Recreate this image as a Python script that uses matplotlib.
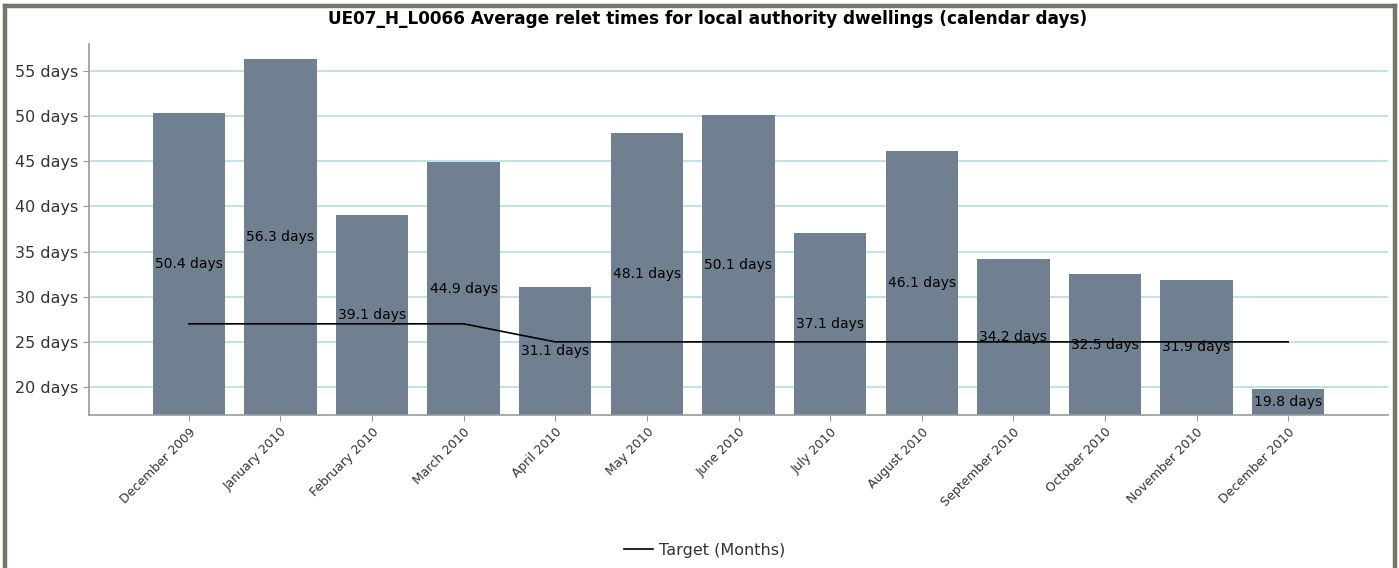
import matplotlib

matplotlib.use("Agg")
import matplotlib.pyplot as plt
from matplotlib.lines import Line2D

MONTHS = ["December 2009", "January 2010", "February 2010", "March 2010",
          "April 2010", "May 2010", "June 2010", "July 2010", "August 2010",
          "September 2010", "October 2010", "November 2010", "December 2010"]
RELET_DAYS = [50.4, 56.3, 39.1, 44.9, 31.1, 48.1, 50.1, 37.1, 46.1, 34.2,
              32.5, 31.9, 19.8]
TARGET_DAYS = [27, 27, 27, 27, 25, 25, 25, 25, 25, 25, 25, 25, 25]
Y_TICKS = [20, 25, 30, 35, 40, 45, 50, 55]

BAR = "#708090"
GRID = "#b7e1e8"
FRAME = "#767668"
TEXT = "#333333"

W, H = 1399, 568
fig = plt.figure(figsize=(W / 100, H / 100), dpi=100, facecolor="white")
ax = fig.add_axes([89 / W, 1 - 415 / H, (1388 - 89) / W, (415 - 44) / H])

ymin, ymax = 16.9, 58.0
xs = list(range(len(MONTHS)))
ax.bar(xs, RELET_DAYS, width=0.79, bottom=0, color=BAR, zorder=2)
for x, v in zip(xs, RELET_DAYS):
    ax.text(x, (ymin + v) / 2, f"{v} days", ha="center", va="center",
            fontsize=10, color="black", zorder=4)
ax.plot(xs, TARGET_DAYS, color="black", lw=1.2, zorder=3,
        label="Target (Months)")

ax.set_ylim(ymin, ymax)
ax.set_xlim(-1.09, len(MONTHS) - 1 + 1.09)
ax.set_yticks(Y_TICKS)
ax.set_yticklabels([f"{t} days" for t in Y_TICKS], fontsize=11.5, color=TEXT)
ax.set_xticks(xs)
ax.set_xticklabels(MONTHS, rotation=45, ha="right", rotation_mode="anchor",
                   fontsize=9, color=TEXT)
ax.yaxis.grid(True, color=GRID, lw=1.3, zorder=0)
ax.set_axisbelow(True)
for s in ("top", "right"):
    ax.spines[s].set_visible(False)
for s in ("left", "bottom"):
    ax.spines[s].set_color("#999999")
    ax.spines[s].set_linewidth(1.2)
ax.tick_params(colors="#999999", length=4, labelcolor=TEXT)

fig.text(708 / W, 1 - 19 / H,
         "UE07_H_L0066 Average relet times for local authority dwellings (calendar days)",
         ha="center", va="center", fontsize=12.2, fontweight="bold",
         color="black")

fig.legend(handles=[Line2D([], [], color="black", lw=1.2)],
           labels=["Target (Months)"], loc="center",
           bbox_to_anchor=(705 / W, 1 - 550 / H), frameon=False,
           fontsize=11.5, labelcolor=TEXT, handlelength=1.8, handletextpad=0.4)

# outer frame (left, top, right; no bottom edge)
def px(x, y):
    return x / W, 1 - y / H

for (x0, y0), (x1, y1) in [((4.5, H), (4.5, 5.5)),
                           ((4.5, 5.5), (1394.5, 5.5)),
                           ((1394.5, 5.5), (1394.5, H))]:
    a, b = px(x0, y0)
    c, d = px(x1, y1)
    fig.add_artist(Line2D([a, c], [b, d], transform=fig.transFigure,
                          color=FRAME, lw=3.2, solid_capstyle="projecting"))

fig.savefig("out.png", dpi=100, facecolor="white")
